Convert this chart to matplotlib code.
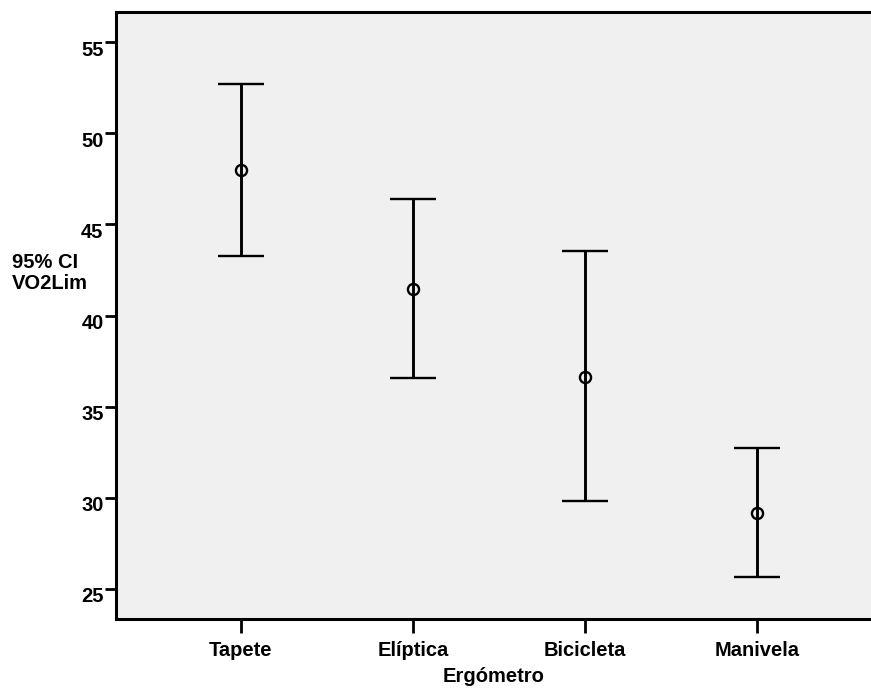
import matplotlib.pyplot as plt
from matplotlib.transforms import ScaledTranslation

plt.rcParams['font.family'] = ['Liberation Sans', 'DejaVu Sans']

# datos
ergometros = ['Tapete', 'Elíptica', 'Bicicleta', 'Manivela']
media = [47.99, 41.47, 36.65, 29.17]
ic_sup = [52.69, 46.41, 43.54, 32.74]
ic_inf = [43.29, 36.58, 29.83, 25.65]
yticks = [25, 30, 35, 40, 45, 50, 55]

x = list(range(1, len(ergometros) + 1))
err = [[m - lo for m, lo in zip(media, ic_inf)],
       [hi - m for m, hi in zip(media, ic_sup)]]

fs = 14.5

fig = plt.figure(figsize=(8.71, 6.88), dpi=100)
ax = fig.add_axes([116 / 871, 1 - 619 / 688, 1 - 116 / 871, (619 - 12) / 688])
ax.set_facecolor('#f0f0f0')

ax.errorbar(x, media, yerr=err, fmt='o', color='black', ecolor='black',
            elinewidth=2.1, capsize=16.5, capthick=2.4,
            markersize=8, markerfacecolor='none', markeredgewidth=1.7)

ax.set_xlim(0.2733, 4.663)
ax.set_ylim(23.35, 56.66)
ax.set_xticks(x)
ax.set_xticklabels(ergometros, fontsize=fs, fontweight='bold')
ax.set_yticks(yticks)
ax.set_yticklabels([str(v) for v in yticks], fontsize=fs, fontweight='bold')

ax.tick_params(axis='y', length=8, width=2, pad=1)
ax.tick_params(axis='x', length=10, width=2, pad=6)

# etiquetas del eje y un poco por debajo de la marca
off = ScaledTranslation(0, -6 / 100, fig.dpi_scale_trans)
for lab in ax.get_yticklabels():
    lab.set_transform(lab.get_transform() + off)

for s in ['left', 'bottom', 'top']:
    ax.spines[s].set_linewidth(2.2)
ax.spines['right'].set_visible(False)

ax.set_xlabel('Ergómetro', fontsize=fs, fontweight='bold', labelpad=5)
fig.text(12 / 871, 1 - 273 / 688, '95% CI\nVO2Lim', fontsize=fs,
         fontweight='bold', ha='left', va='center', linespacing=1.15)

fig.savefig('out.png', dpi=100)
